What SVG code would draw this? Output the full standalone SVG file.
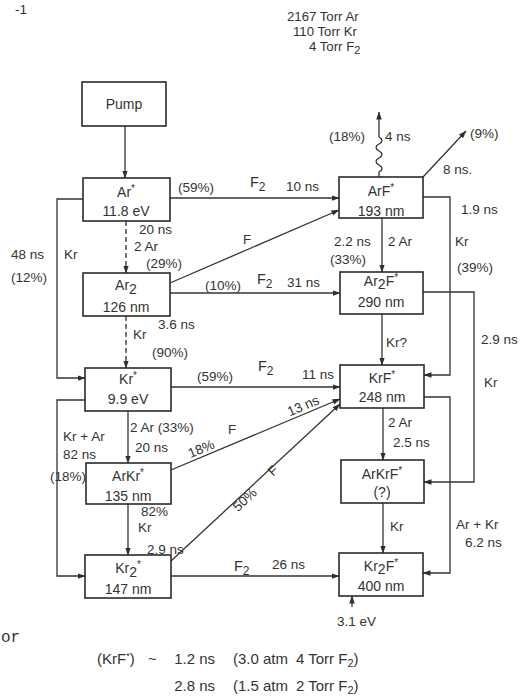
<svg xmlns="http://www.w3.org/2000/svg" width="526" height="700" viewBox="0 0 526 700">
<defs>
<marker id="a" markerWidth="8" markerHeight="6" refX="7.5" refY="3" orient="auto" markerUnits="userSpaceOnUse">
<path d="M0,0.2 L8,3 L0,5.8 z" fill="#2e2e2e"/>
</marker>
<style>
text{font-family:"Liberation Sans",Arial,sans-serif;font-size:13.5px;fill:#333}
.b text{font-size:14px;text-anchor:middle}
.box{fill:#fff;stroke:#2a2a2a;stroke-width:1.6}
.c{fill:none;stroke:#333;stroke-width:1.3}
.ar{marker-end:url(#a)}
.d{stroke-dasharray:5,3}
.tw{font-family:"Liberation Mono","Courier New",monospace;font-size:16px}
.g{font-size:13.2px}
.f{font-size:14.5px}
.bt{font-size:15px}
</style>
</defs>
<rect width="526" height="700" fill="#fff"/>

<!-- page fragments -->
<text x="15" y="14" font-size="10">-1</text>
<text class="tw" x="1" y="642">or</text>

<!-- gas mix -->
<text class="g" x="287" y="21">2167 Torr Ar</text>
<text class="g" x="293" y="36">110 Torr Kr</text>
<text class="g" x="309" y="51">4 Torr F<tspan dy="3" font-size="11">2</tspan></text>

<g id="connectors">
<line class="c ar" x1="125" y1="126" x2="125" y2="178"/>
<line class="c ar d" x1="126" y1="221" x2="126" y2="273"/>
<line class="c ar d" x1="126" y1="316" x2="126" y2="368"/>
<line class="c ar" x1="128" y1="411" x2="128" y2="463"/>
<line class="c ar" x1="128" y1="504" x2="128" y2="555"/>
<polyline class="c ar" points="83,199 57,199 57,378 85,378"/>
<polyline class="c ar" points="85,400 57,400 57,576 85,576"/>
<line class="c ar" x1="170" y1="198" x2="339" y2="198"/>
<line class="c ar" x1="170" y1="283" x2="339" y2="210"/>
<line class="c ar" x1="170" y1="293" x2="340" y2="293"/>
<line class="c ar" x1="382" y1="218" x2="382" y2="272"/>
<line class="c ar" x1="382" y1="314" x2="382" y2="365"/>
<line class="c ar" x1="171" y1="387" x2="340" y2="387"/>
<line class="c ar" x1="171" y1="470" x2="340" y2="399"/>
<line class="c ar" x1="171" y1="561" x2="340" y2="404"/>
<line class="c ar" x1="383" y1="408" x2="383" y2="460"/>
<line class="c ar" x1="383" y1="503" x2="383" y2="553"/>
<line class="c ar" x1="171" y1="576" x2="339" y2="576"/>
<polyline class="c ar" points="423,197 450,197 450,375 424,375"/>
<polyline class="c ar" points="424,397 450,397 450,573 423,573"/>
<polyline class="c ar" points="423,292 474,292 474,482 424,482"/>
<line class="c ar" x1="423" y1="177" x2="466" y2="131"/>
<path class="c ar" d="M379,177 L379,172 c4,-2 4,-5 0,-7 c-4,-2 -4,-5 0,-7 c4,-2 4,-5 0,-7 c-4,-2 -4,-5 0,-7 c4,-2 4,-5 0,-7 L379,112"/>
<line class="c ar" x1="352" y1="607" x2="352" y2="596"/>
</g>

<g id="pump" class="b"><rect class="box" x="82" y="82" width="84" height="44"/><text x="124" y="109" font-size="14.5">Pump</text></g>
<g id="ar" class="b"><rect class="box" x="83" y="178" width="87" height="43"/><text x="126" y="197">Ar<tspan dy="-5" font-size="10">*</tspan></text><text x="126" y="216">11.8 eV</text></g>
<g id="ar2" class="b"><rect class="box" x="83" y="273" width="87" height="43"/><text x="126" y="290">Ar<tspan dy="4">2</tspan></text><text x="126" y="312">126 nm</text></g>
<g id="kr" class="b"><rect class="box" x="85" y="368" width="86" height="43"/><text x="128" y="384">Kr<tspan dy="-5" font-size="10">*</tspan></text><text x="128" y="404">9.9 eV</text></g>
<g id="arkr" class="b"><rect class="box" x="86" y="463" width="85" height="41"/><text x="128" y="481">ArKr<tspan dy="-5" font-size="10">*</tspan></text><text x="128" y="501">135 nm</text></g>
<g id="kr2" class="b"><rect class="box" x="85" y="555" width="86" height="43"/><text x="128" y="573">Kr<tspan dy="4">2</tspan><tspan dy="-9" font-size="10">*</tspan></text><text x="128" y="594">147 nm</text></g>
<g id="arf" class="b"><rect class="box" x="339" y="177" width="84" height="41"/><text x="381" y="196">ArF<tspan dy="-5" font-size="10">*</tspan></text><text x="381" y="216">193 nm</text></g>
<g id="ar2f" class="b"><rect class="box" x="340" y="272" width="83" height="42"/><text x="381" y="286">Ar<tspan dy="3">2</tspan><tspan dy="-3">F</tspan><tspan dy="-5" font-size="10">*</tspan></text><text x="381" y="307">290 nm</text></g>
<g id="krf" class="b"><rect class="box" x="340" y="365" width="84" height="43"/><text x="382" y="383">KrF<tspan dy="-5" font-size="10">*</tspan></text><text x="382" y="402">248 nm</text></g>
<g id="arkrf" class="b"><rect class="box" x="341" y="460" width="83" height="43"/><text x="382" y="479">ArKrF<tspan dy="-5" font-size="10">*</tspan></text><text x="382" y="497">(?)</text></g>
<g id="kr2f" class="b"><rect class="box" x="339" y="553" width="84" height="43"/><text x="381" y="571">Kr<tspan dy="3">2</tspan><tspan dy="-3">F</tspan><tspan dy="-5" font-size="10">*</tspan></text><text x="381" y="591">400 nm</text></g>

<g id="labels">
<text x="178" y="192">(59%)</text>
<text class="f" x="250" y="187">F<tspan dy="4" font-size="12">2</tspan></text>
<text x="286" y="191">10 ns</text>
<text x="139" y="234">20 ns</text>
<text x="134" y="251">2 Ar</text>
<text x="146" y="268">(29%)</text>
<text x="11" y="259">48 ns</text>
<text x="11" y="282">(12%)</text>
<text x="64" y="259">Kr</text>
<text x="243" y="244">F</text>
<text x="205" y="290">(10%)</text>
<text class="f" x="257" y="284">F<tspan dy="4" font-size="12">2</tspan></text>
<text x="287" y="287">31 ns</text>
<text x="158" y="329" font-size="14">3.6 ns</text>
<text x="133" y="339">Kr</text>
<text x="152" y="357">(90%)</text>
<text x="197" y="381">(59%)</text>
<text class="f" x="258" y="371">F<tspan dy="4" font-size="12">2</tspan></text>
<text x="302" y="379">11 ns</text>
<text x="130" y="432">2 Ar (33%)</text>
<text x="135" y="452">20 ns</text>
<text x="63" y="441">Kr + Ar</text>
<text x="63" y="459">82 ns</text>
<text x="50" y="481">(18%)</text>
<text x="141" y="516">82%</text>
<text x="138" y="532">Kr</text>
<text x="147" y="554">2.9 ns</text>
<text x="228" y="434">F</text>
<text transform="translate(203,453) rotate(-23)" text-anchor="middle">18%</text>
<text transform="translate(305,410) rotate(-23)" text-anchor="middle">13 ns</text>
<text transform="translate(248,503) rotate(-43)" text-anchor="middle">50%</text>
<text transform="translate(276,474) rotate(-43)" text-anchor="middle">F</text>
<text class="f" x="234" y="571">F<tspan dy="4" font-size="12">2</tspan></text>
<text x="272" y="569">26 ns</text>
<text x="337" y="626">3.1 eV</text>
<text x="334" y="246">2.2 ns</text>
<text x="388" y="246">2 Ar</text>
<text x="330" y="264">(33%)</text>
<text x="461" y="214">1.9 ns</text>
<text x="455" y="246">Kr</text>
<text x="457" y="272">(39%)</text>
<text x="386" y="347">Kr?</text>
<text x="481" y="344">2.9 ns</text>
<text x="484" y="387">Kr</text>
<text x="388" y="427">2 Ar</text>
<text x="393" y="447">2.5 ns</text>
<text x="390" y="531">Kr</text>
<text x="456" y="529">Ar + Kr</text>
<text x="465" y="547">6.2 ns</text>
<text x="329" y="141">(18%)</text>
<text x="385" y="141">4 ns</text>
<text x="470" y="138">(9%)</text>
<text x="443" y="174">8 ns.</text>
<text class="bt" x="97" y="664">(KrF<tspan dy="-5" font-size="9">*</tspan><tspan dy="5">)</tspan><tspan x="148">~</tspan></text>
<text class="bt" x="215" y="664" text-anchor="end">1.2 ns</text>
<text class="bt" x="233" y="664">(3.0 atm<tspan x="296">4 Torr F</tspan><tspan dy="3" font-size="11">2</tspan><tspan dy="-3">)</tspan></text>
<text class="bt" x="215" y="691" text-anchor="end">2.8 ns</text>
<text class="bt" x="233" y="691">(1.5 atm<tspan x="296">2 Torr F</tspan><tspan dy="3" font-size="11">2</tspan><tspan dy="-3">)</tspan></text>
</g>
</svg>
